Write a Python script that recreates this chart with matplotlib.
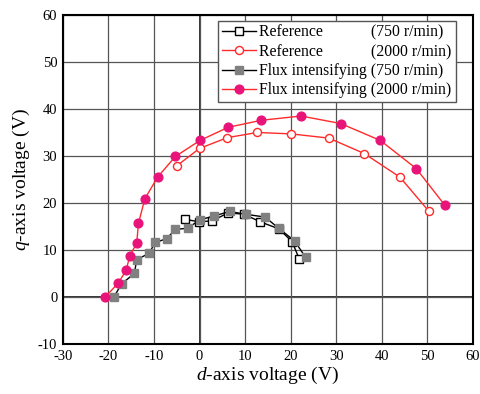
import matplotlib.pyplot as plt
from matplotlib import rcParams

rcParams['font.family'] = 'serif'
rcParams['font.serif'] = ['Liberation Serif']
rcParams['mathtext.fontset'] = 'custom'
rcParams['mathtext.rm'] = 'Liberation Serif'
rcParams['mathtext.it'] = 'Liberation Serif:italic'
rcParams['axes.unicode_minus'] = False

# Reference (750 r/min)
ref750_d = [-3.1, -0.1, 2.8, 6.3, 9.8, 13.3, 17.4, 20.3, 21.9]
ref750_q = [16.5, 16.0, 16.2, 17.9, 17.6, 16.0, 14.5, 11.8, 8.1]

# Reference (2000 r/min)
ref2000_d = [-5.0, 0.0, 6.1, 12.7, 20.1, 28.4, 36.2, 44.0, 50.3]
ref2000_q = [27.9, 31.6, 33.9, 35.0, 34.7, 33.8, 30.5, 25.5, 18.3]

# Flux intensifying (750 r/min)
flux750_d = [-18.8, -17.1, -14.3, -13.8, -11.1, -9.7, -7.2, -5.3, -2.6, 0.0,
             3.1, 6.6, 10.1, 14.4, 17.4, 20.9, 23.3]
flux750_q = [0.0, 2.8, 5.0, 7.9, 9.3, 11.6, 12.4, 14.4, 14.6, 16.4,
             17.2, 18.2, 17.6, 17.0, 14.6, 11.9, 8.4]

# Flux intensifying (2000 r/min)
flux2000_d = [-20.7, -17.8, -16.1, -15.3, -13.8, -13.4, -12.0, -9.2, -5.3, 0.1,
              6.3, 13.6, 22.3, 31.0, 39.7, 47.6, 53.8]
flux2000_q = [0.0, 3.0, 5.7, 8.8, 11.4, 15.7, 20.9, 25.5, 29.9, 33.3,
              36.1, 37.6, 38.5, 36.9, 33.3, 27.3, 19.6]

red = '#ff2a2a'
pink = '#e8147a'

fig = plt.figure(figsize=(4.8, 3.94), dpi=100)
ax = fig.add_axes([0.131, 0.127, 0.854, 0.835])

ax.plot(ref750_d, ref750_q, color='black', lw=1, marker='s', ms=5.8,
        mfc='white', mec='black', mew=1, zorder=3,
        label='Reference            (750 r/min)')
ax.plot(ref2000_d, ref2000_q, color=red, lw=1, marker='o', ms=5.8,
        mfc='white', mec=red, mew=1, zorder=3,
        label='Reference            (2000 r/min)')
ax.plot(flux750_d, flux750_q, color='black', lw=1, marker='s', ms=5.8,
        mfc='#808080', mec='#808080', zorder=4,
        label='Flux intensifying (750 r/min)')
ax.plot(flux2000_d, flux2000_q, color=red, lw=1, marker='o', ms=6.3,
        mfc=pink, mec=pink, zorder=4,
        label='Flux intensifying (2000 r/min)')

ax.set_xlim(-30, 60)
ax.set_ylim(-10, 60)
ax.set_xticks(range(-30, 61, 10))
ax.set_yticks(range(-10, 61, 10))
ax.grid(True, color='#555555', lw=0.9)
ax.axvline(0, color='#333333', lw=1.4, zorder=1)
ax.axhline(0, color='#333333', lw=1.4, zorder=1)
ax.tick_params(length=0, labelsize=10.5, pad=4)
for s in ax.spines.values():
    s.set_linewidth(1.5)

ax.set_xlabel(r'$\mathit{d}$-axis voltage (V)', fontsize=14, labelpad=2)
ax.set_ylabel(r'$\mathit{q}$-axis voltage (V)', fontsize=14, labelpad=4)

leg = ax.legend(loc='upper right', bbox_to_anchor=(0.958, 0.982),
                fontsize=11.3, frameon=True, fancybox=False,
                edgecolor='#555555', framealpha=1, handlelength=2.2,
                handletextpad=0.2, borderpad=0.25, labelspacing=0.2,
                borderaxespad=0)
leg.get_frame().set_linewidth(1)

fig.savefig('out.png', dpi=100)
